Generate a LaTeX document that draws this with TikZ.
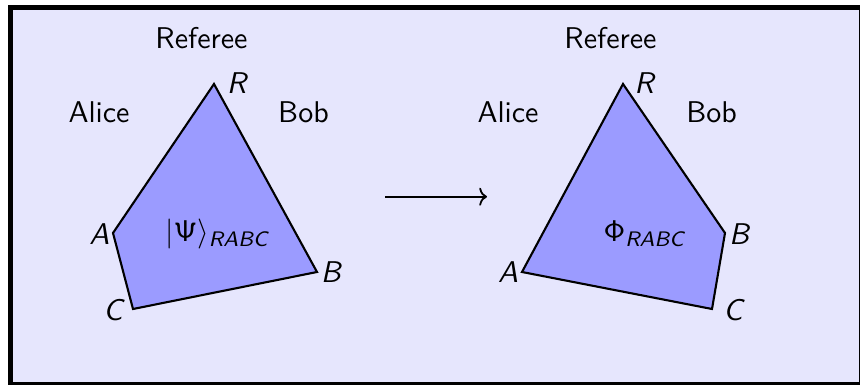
\documentclass[tikz,border=0pt]{standalone}
\usepackage{fontspec}
\usepackage{amsmath}
\usetikzlibrary{arrows.meta}
\renewcommand{\familydefault}{\sfdefault}
\definecolor{bgcol}{RGB}{230,230,253}
\definecolor{polycol}{RGB}{155,155,255}
\tikzset{
  word/.style={anchor=base, inner sep=0pt, font=\sffamily},
  vlabel/.style={inner sep=0pt, font=\sffamily\itshape},
  poly/.style={draw=black, fill=polycol, line width=0.7pt, line join=miter},
  statelabel/.style={anchor=base west, inner sep=0pt},
}
\begin{document}
\begin{tikzpicture}[x=0.33333pt, y=-0.33333pt]
\useasboundingbox (0,0) rectangle (860,385);
\fill[bgcol] (10.7,7.5) rectangle (861,384.5);
\draw[line width=1.6pt] (10.7,7.5) rectangle (861.3,384.8);

% left polygon
\coordinate (lR) at (214,84);
\coordinate (lA) at (113,233);
\coordinate (lC) at (133,309);
\coordinate (lB) at (317,272);
\draw[poly] (lR) -- (lA) -- (lC) -- (lB) -- cycle;
\node[vlabel] (lRl) at (236.5,83.5) {R};
\node[vlabel] (lAl) at (99.5,234.5) {A};
\node[vlabel] (lCl) at (113,310) {C};
\node[vlabel] (lBl) at (331,272) {B};
\node[statelabel] (psi) at (165,242) {$|\text{Ψ}\rangle_{\text{\itshape RABC}}$};
\node[word] (lref) at (201.5,49) {Referee};
\node[word] (lalice) at (99,123) {Alice};
\node[word] (lbob) at (303.5,123) {Bob};

% arrow
\coordinate (arS) at (385,196.7);
\coordinate (arE) at (487,196.7);
\draw[-{To[length=2.6pt,width=6pt]}, line width=0.6pt] (arS) -- (arE);

% right polygon
\coordinate (rR) at (623,84);
\coordinate (rB) at (725,233);
\coordinate (rC) at (712,309);
\coordinate (rA) at (522,272);
\draw[poly] (rR) -- (rB) -- (rC) -- (rA) -- cycle;
\node[vlabel] (rRl) at (644,83.5) {R};
\node[vlabel] (rBl) at (739,234.5) {B};
\node[vlabel] (rCl) at (733,310) {C};
\node[vlabel] (rAl) at (508,272) {A};
\node[statelabel] (phi) at (603,242) {$\text{Φ}_{\text{\itshape RABC}}$};
\node[word] (rref) at (610.5,49) {Referee};
\node[word] (ralice) at (508,123) {Alice};
\node[word] (rbob) at (711.5,123) {Bob};
\end{tikzpicture}
\end{document}
